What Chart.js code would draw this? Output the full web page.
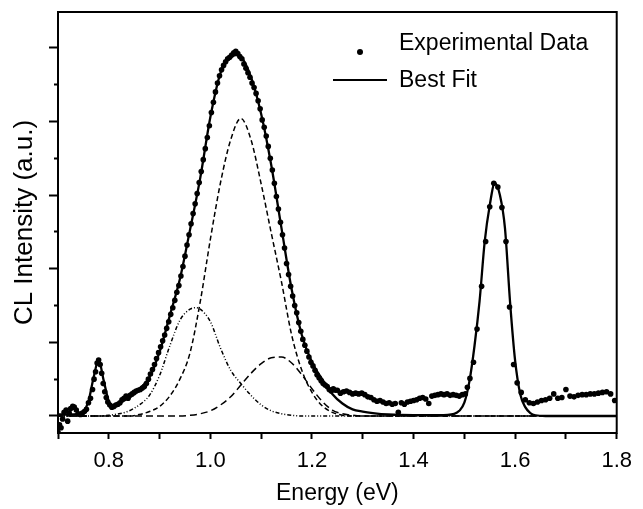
<!DOCTYPE html>
<html>
<head>
<meta charset="utf-8">
<script src="https://cdn.jsdelivr.net/npm/chart.js@4/dist/chart.umd.min.js"></script>
<style>
  html, body { margin: 0; padding: 0; background: #fff; }
  canvas { display: block; }
</style>
</head>
<body>
<canvas id="canvas" width="643" height="509"></canvas>
<script>
// experimental CL spectrum
var expEnergy = [
    0.700,0.703,0.706,0.709,0.712,0.716,0.719,0.722,0.725,0.729,
    0.732,0.736,0.740,0.744,0.748,0.752,0.756,0.760,0.764,0.768,
    0.771,0.774,0.777,0.780,0.783,0.786,0.789,0.792,0.795,0.798,
    0.802,0.806,0.810,
    0.814,0.818,0.822,0.826,0.830,0.834,0.838,0.842,0.846,0.850,
    0.854,0.858,0.862,0.866,0.870,0.874,0.878,0.882,0.886,0.890,
    0.894,0.898,0.902,0.906,0.910,0.914,0.918,0.922,0.926,0.930,
    0.934,0.938,0.942,0.946,0.950,0.954,0.958,0.962,0.966,0.970,
    0.974,0.978,0.982,0.986,0.990,0.994,0.998,1.002,1.006,1.010,
    1.014,1.018,1.022,1.026,1.030,1.034,1.038,1.042,1.046,1.050,
    1.054,1.058,1.062,1.066,1.070,1.074,1.078,1.082,1.086,1.090,
    1.094,1.098,1.102,1.106,1.110,1.114,1.118,1.122,1.126,1.130,
    1.134,1.138,1.142,1.146,1.150,1.154,1.158,1.162,1.166,1.170,
    1.174,1.178,1.182,1.186,1.190,1.194,1.198,1.202,1.206,1.210,
    1.214,1.218,1.222,1.226,1.230,1.234,1.238,1.242,1.246,
    1.250,1.256,1.262,1.268,1.274,1.280,1.286,1.292,1.298,1.304,
    1.310,1.316,1.322,1.328,1.334,1.340,1.346,1.352,1.358,1.364,
    1.370,1.376,1.382,1.388,1.394,1.400,1.406,1.412,1.418,1.424,
    1.430,1.436,1.442,1.448,1.454,1.460,1.466,1.472,1.478,1.484,
    1.490,1.496,
    1.502,1.506,1.511,1.518,1.525,1.534,1.542,1.550,1.558,1.566,
    1.574,1.582,1.589,1.597,1.604,1.612,1.620,1.628,1.636,1.644,
    1.652,1.660,1.668,1.676,1.684,1.692,1.700,1.708,1.716,1.724,
    1.732,1.740,1.748,1.756,1.764,1.772,1.780,1.788,1.796
];
var expIntensity = [
    -0.22,-0.12,-0.16,-0.04,0.05,0.08,-0.07,0.04,0.10,0.13,
    0.12,0.08,0.03,0.02,0.04,0.06,0.09,0.18,0.24,0.36,
    0.50,0.60,0.72,0.76,0.70,0.58,0.44,0.33,0.25,0.19,
    0.15,0.12,0.13,
    0.15,0.16,0.18,0.22,0.24,0.27,0.24,0.28,0.30,0.32,
    0.34,0.35,0.36,0.38,0.40,0.44,0.50,0.57,0.63,0.70,
    0.78,0.86,0.94,1.02,1.10,1.19,1.28,1.38,1.47,1.57,
    1.68,1.77,1.90,2.03,2.17,2.32,2.46,2.61,2.75,2.88,
    3.02,3.17,3.32,3.48,3.63,3.78,3.94,4.12,4.26,4.40,
    4.52,4.62,4.70,4.76,4.81,4.85,4.87,4.90,4.93,4.95,
    4.92,4.88,4.85,4.78,4.72,4.66,4.60,4.52,4.46,4.38,
    4.28,4.17,4.02,3.92,3.80,3.66,3.50,3.34,3.16,2.98,
    2.81,2.63,2.46,2.28,2.07,1.92,1.76,1.63,1.50,1.40,
    1.27,1.15,1.04,0.96,0.88,0.80,0.73,0.68,0.62,0.56,
    0.52,0.48,0.44,0.42,0.40,0.36,0.34,0.37,0.35,
    0.35,0.31,0.33,0.34,0.32,0.30,0.31,0.30,0.31,0.29,
    0.26,0.25,0.22,0.20,0.21,0.19,0.17,0.18,0.16,0.17,
    0.05,0.18,0.16,0.19,0.20,0.21,0.22,0.24,0.25,0.23,
    0.17,0.27,0.28,0.29,0.30,0.29,0.30,0.28,0.29,0.28,
    0.27,0.29,
    0.30,0.39,0.51,0.73,1.18,1.76,2.37,2.84,3.16,3.11,
    2.83,2.37,1.48,0.70,0.45,0.32,0.22,0.18,0.17,0.19,
    0.21,0.22,0.24,0.30,0.24,0.25,0.36,0.27,0.26,0.28,
    0.29,0.29,0.30,0.30,0.31,0.32,0.33,0.30,0.21
];

// best fit (sum of peaks)
var fitEnergy = [0.70,0.72,0.74,0.75,0.76,0.77,0.78,0.79,0.80,0.81,0.82,0.84,0.86,0.88,0.90,0.92,0.94,0.96,0.98,1.00,
    1.02,1.04,1.05,1.06,1.08,1.10,1.12,1.14,1.16,1.18,1.20,1.22,1.24,1.26,1.28,1.30,1.32,1.35,1.40,1.45,
    1.48,1.49,1.50,1.51,1.52,1.53,1.54,1.55,1.56,1.57,1.58,1.59,1.60,1.61,1.62,1.63,1.64,1.66,1.80];
var fitIntensity = [0.02,0.02,0.03,0.06,0.20,0.52,0.76,0.48,0.20,0.14,0.17,0.25,0.36,0.53,0.87,1.36,1.86,2.53,3.23,4.06,
    4.66,4.87,4.90,4.88,4.60,4.10,3.40,2.55,1.72,1.10,0.73,0.50,0.30,0.17,0.09,0.06,0.04,0.02,0.01,0.01,
    0.03,0.07,0.18,0.47,0.95,1.56,2.36,2.86,3.16,3.00,2.55,1.55,0.75,0.30,0.12,0.04,0.01,0,0];

// fitted components (dash-dot-dot ~0.97 eV, dashed ~1.06 eV, dashed ~1.14 eV)
var peak1Energy = [0.70,0.78,0.80,0.82,0.84,0.86,0.88,0.90,0.92,0.94,0.96,0.97,0.98,1.00,1.02,1.04,1.06,1.08,1.10,1.12,1.14,1.16,1.18,1.80];
var peak1Intensity = [0,0,0.01,0.03,0.07,0.15,0.28,0.55,0.95,1.30,1.45,1.47,1.45,1.28,0.92,0.62,0.44,0.28,0.15,0.07,0.03,0.01,0,0];
var peak2Energy = [0.70,0.84,0.86,0.88,0.90,0.92,0.94,0.96,0.98,1.00,1.02,1.04,1.06,1.08,1.10,1.12,1.14,1.16,1.18,1.20,1.22,1.24,1.26,1.28,1.80];
var peak2Intensity = [0,0,0.02,0.06,0.13,0.27,0.50,0.86,1.55,2.40,3.17,3.75,4.04,3.75,3.15,2.48,1.82,1.10,0.62,0.32,0.14,0.05,0.01,0,0];
var peak3Energy = [0.70,0.94,0.96,0.98,1.00,1.02,1.04,1.06,1.08,1.10,1.12,1.14,1.16,1.18,1.20,1.22,1.24,1.26,1.28,1.30,1.80];
var peak3Intensity = [0,0,0.01,0.03,0.07,0.15,0.26,0.42,0.58,0.71,0.79,0.80,0.72,0.56,0.37,0.20,0.08,0.03,0.01,0,0];

var xTickValues = [0.7,0.8,0.9,1.0,1.1,1.2,1.3,1.4,1.5,1.6,1.7,1.8];
var xTickLabels = ['','0.8','','1.0','','1.2','','1.4','','1.6','','1.8'];
var yTickValues = [0,0.5,1,1.5,2,2.5,3,3.5,4,4.5,5];

var FONT = '"Liberation Sans", Arial, Helvetica, sans-serif';

function toPoints(xs, ys) {
    return xs.map(function (x, i) { return { x: x, y: ys[i] }; });
}

function lineSet(xs, ys, width, dash) {
    return {
        data: toPoints(xs, ys),
        showLine: true,
        borderColor: '#000',
        borderWidth: width,
        borderDash: dash,
        pointRadius: 0,
        cubicInterpolationMode: 'monotone',
        fill: false
    };
}

var framePlugin = {
    id: 'frame',
    afterDraw: function (chart) {
        var ctx = chart.ctx, a = chart.chartArea;
        ctx.save();
        ctx.strokeStyle = '#000';
        ctx.lineWidth = 2;
        ctx.strokeRect(a.left, a.top, a.right - a.left, a.bottom - a.top);

        // legend
        ctx.fillStyle = '#000';
        ctx.beginPath();
        ctx.arc(360, 52, 3, 0, Math.PI * 2);
        ctx.fill();
        ctx.beginPath();
        ctx.moveTo(333, 80);
        ctx.lineTo(387, 80);
        ctx.stroke();
        ctx.font = '23px ' + FONT;
        ctx.textBaseline = 'alphabetic';
        ctx.fillText('Experimental Data', 399, 50);
        ctx.fillText('Best Fit', 399, 87);
        ctx.restore();
    }
};

var ctx = document.getElementById('canvas').getContext('2d');
var chart = new Chart(ctx, {
    type: 'scatter',
    data: {
        datasets: [
            lineSet(peak1Energy, peak1Intensity, 1.5, [4, 2, 1, 2, 1, 2]),
            lineSet(peak2Energy, peak2Intensity, 1.5, [5, 3]),
            lineSet(peak3Energy, peak3Intensity, 1.5, [7, 4]),
            lineSet(fitEnergy, fitIntensity, 2.3, []),
            {
                data: toPoints(expEnergy, expIntensity),
                backgroundColor: '#000',
                borderColor: '#000',
                pointRadius: 2.8,
                pointBorderWidth: 0,
                showLine: false
            }
        ]
    },
    options: {
        responsive: false,
        animation: false,
        devicePixelRatio: 1,
        layout: { padding: { top: 12, right: 17, left: 0, bottom: 0 } },
        plugins: { legend: { display: false }, tooltip: { enabled: false } },
        scales: {
            x: {
                type: 'linear',
                min: 0.7,
                max: 1.8,
                afterBuildTicks: function (s) { s.ticks = xTickValues.map(function (v) { return { value: v }; }); },
                afterFit: function (s) { s.height = 76; },
                border: { display: false },
                grid: { drawOnChartArea: false, tickLength: 6, tickWidth: 2, tickColor: '#000' },
                ticks: {
                    autoSkip: false,
                    maxRotation: 0,
                    padding: 11,
                    color: '#000',
                    font: { family: FONT, size: 22, lineHeight: 1 },
                    callback: function (v, i) { return xTickLabels[i]; }
                },
                title: {
                    display: true,
                    text: 'Energy (eV)',
                    color: '#000',
                    font: { family: FONT, size: 23, lineHeight: 1 },
                    padding: { top: 0, bottom: 4 }
                }
            },
            y: {
                type: 'linear',
                min: -0.231,
                max: 5.485,
                afterBuildTicks: function (s) { s.ticks = yTickValues.map(function (v) { return { value: v }; }); },
                afterFit: function (s) { s.width = 58; },
                border: { display: false },
                grid: {
                    drawOnChartArea: false,
                    tickLength: 9,
                    tickWidth: 2,
                    tickColor: '#000',
                    tickBorderDash: function (c) {
                        return (c.tick && c.tick.value % 1 !== 0) ? [0, 5, 4, 0] : [];
                    }
                },
                ticks: { callback: function () { return ''; } },
                title: {
                    display: true,
                    text: 'CL Intensity (a.u.)',
                    color: '#000',
                    font: { family: FONT, size: 26, lineHeight: 1 },
                    padding: { top: 12, bottom: 0 }
                }
            }
        }
    },
    plugins: [framePlugin]
});
</script>
</body>
</html>
